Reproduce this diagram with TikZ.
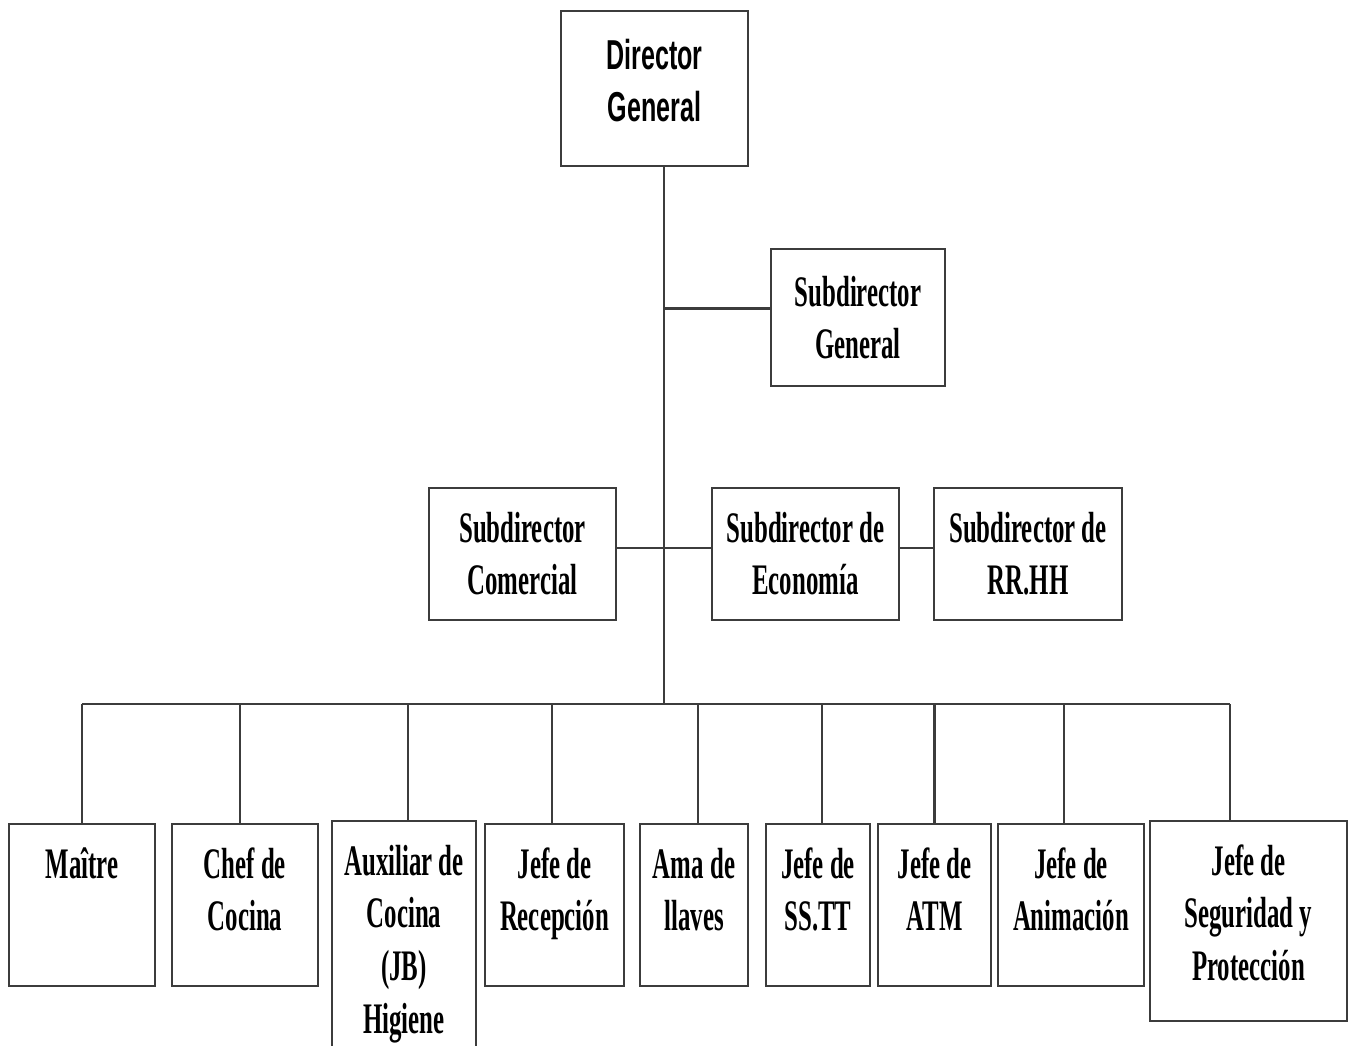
\documentclass[tikz,border=0pt]{standalone}
\usepackage{fontspec}
\usetikzlibrary{positioning}
\newfontfamily\orgserif[FakeStretch=0.57]{Liberation Serif}
\newfontfamily\orgsans[FakeStretch=0.6]{Liberation Sans}
\definecolor{orgline}{RGB}{60,60,60}
% text hung from the top of a fixed-size box
\newcommand{\toptext}[3]{\parbox[c][#2][t]{#1}{\centering\vspace*{0.17cm}\strut#3}}

\begin{document}
\begin{tikzpicture}[
    box/.style={draw=orgline, line width=0.7pt, align=center, inner sep=2pt,
      font=\orgserif\bfseries\fontsize{12.4}{14.8}\selectfont},
    topbox/.style={draw=orgline, line width=0.7pt, inner sep=0pt, anchor=north,
      font=\orgserif\bfseries\fontsize{12.4}{15}\selectfont},
    link/.style={orgline, line width=0.6pt}]
  \fill[white] (0,0) rectangle (13.55,-10.45);
  \useasboundingbox (0,0) rectangle (13.55,-10.45);
  \clip (0,0) rectangle (13.55,-10.45);

  % top levels
  \node[box, font=\orgsans\bfseries\fontsize{11.9}{14.8}\selectfont, text depth=0.16cm,
    minimum width=1.87cm, minimum height=1.55cm] (director) at (6.545,-0.885) {Director\\General};
  \node[box, minimum width=1.74cm, minimum height=1.37cm] (subgen) at (8.58,-3.175) {Subdirector\\General};
  \node[box, minimum width=1.87cm, minimum height=1.32cm] (subcom) at (5.225,-5.54) {Subdirector\\Comercial};
  \node[box, minimum width=1.87cm, minimum height=1.32cm] (subeco) at (8.055,-5.54) {Subdirector de\\Economía};
  \node[box, minimum width=1.88cm, minimum height=1.32cm] (subrrhh) at (10.28,-5.54) {Subdirector de\\RR.HH};

  % departments
  \node[topbox] (maitre) at (0.82,-8.23) {\toptext{1.46cm}{1.62cm}{Maître}};
  \node[topbox] (chef) at (2.45,-8.23) {\toptext{1.46cm}{1.62cm}{Chef de\\Cocina}};
  \node[topbox] (aux) at (4.04,-8.20) {\toptext{1.44cm}{2.40cm}{Auxiliar de\\Cocina\\(JB)\\Higiene}};
  \node[topbox] (recep) at (5.545,-8.23) {\toptext{1.39cm}{1.62cm}{Jefe de\\Recepción}};
  \node[topbox] (ama) at (6.94,-8.23) {\toptext{1.08cm}{1.62cm}{Ama de\\llaves}};
  \node[topbox] (sstt) at (8.18,-8.23) {\toptext{1.04cm}{1.62cm}{Jefe de\\SS.TT}};
  \node[topbox] (atm) at (9.345,-8.23) {\toptext{1.13cm}{1.62cm}{Jefe de\\ATM}};
  \node[topbox] (anim) at (10.71,-8.23) {\toptext{1.46cm}{1.62cm}{Jefe de\\Animación}};
  \node[topbox] (seg) at (12.485,-8.20) {\toptext{1.97cm}{2.00cm}{Jefe de\\Seguridad y\\Protección}};

  % connectors
  \coordinate (bus) at (6.64,-7.04);
  \draw[link] (director.south -| bus) -- (bus);
  \draw[link] ([yshift=0.09cm]subgen.west) -- ([yshift=0.09cm]subgen.west -| bus);
  \draw[link] ([yshift=0.06cm]subcom.east) -- ([yshift=0.06cm]subeco.west);
  \draw[link] ([yshift=0.06cm]subeco.east) -- ([yshift=0.06cm]subrrhh.west);
  \draw[link] (maitre.north |- bus) -- ([xshift=-0.185cm]seg.north |- bus);
  \foreach \n/\dx in {maitre/0,chef/-0.05,aux/0.04,recep/-0.025,ama/0.04,sstt/0.04,atm/0,anim/-0.07,seg/-0.185}
    \draw[link] ([xshift=\dx cm]\n.north) -- ([xshift=\dx cm]\n.north |- bus);
\end{tikzpicture}
\end{document}
